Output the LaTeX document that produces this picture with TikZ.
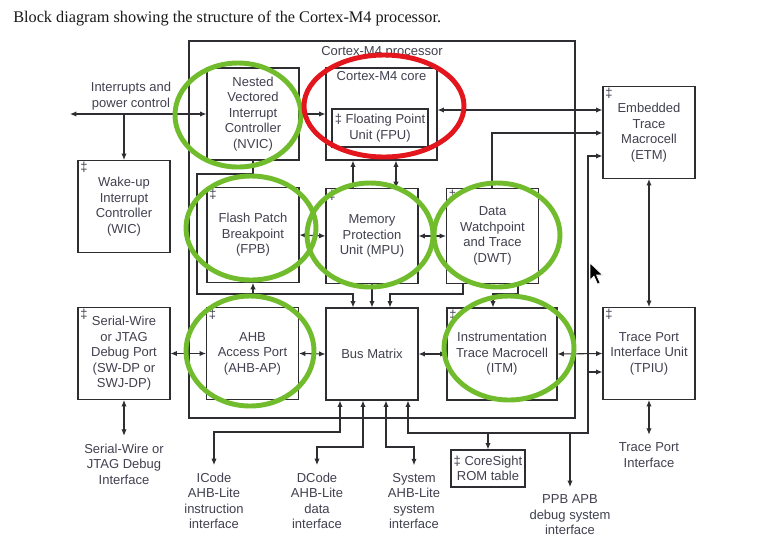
\documentclass[tikz,border=0pt]{standalone}
\usepackage{fontspec}
\setmainfont{Liberation Serif}
\newfontfamily\arialfont{Liberation Sans}
\usepackage{tikz}
\usetikzlibrary{positioning, arrows.meta}
\definecolor{linegray}{RGB}{45,45,50}
\definecolor{textgray}{RGB}{65,65,80}
\definecolor{titleblack}{RGB}{25,25,25}
\definecolor{markgreen}{RGB}{112,188,45}
\definecolor{markred}{RGB}{226,22,28}
\newcommand{\boxfont}{\arialfont\fontsize{9.75}{11.6}\selectfont}

\begin{document}
\begin{tikzpicture}[x=0.75pt, y=-0.75pt,
    % Block styles
    block/.style={draw=linegray, line width=0.8pt, fill=white, minimum width=69pt, minimum height=69pt, inner sep=0pt, align=center, font=\boxfont, text=textgray},
    dagger/.style={font=\boxfont, text=textgray, inner sep=0pt},
    boxlabel/.style={font=\boxfont, text=textgray, inner sep=0pt},
    ifacelabel/.style={font=\boxfont, text=textgray, align=center, inner sep=0pt, outer sep=6pt},
    % Connector styles
    conn/.style={draw=linegray, line width=0.8pt},
    arr/.style={conn, -{Latex[length=4.8pt, width=4pt]}},
    biarr/.style={conn, {Latex[length=4.8pt, width=4pt]}-{Latex[length=4.8pt, width=4pt]}},
    % Hand-drawn annotation rings
    greenring/.style={draw=markgreen, line width=3.7pt},
    redring/.style={draw=markred, line width=3.7pt}
  ]

  \useasboundingbox (0,0) rectangle (765,537);
  \fill[white] (0,0) rectangle (765,537);

  % Caption
  \node[anchor=west, inner sep=0pt, text=titleblack, font=\fontsize{12.2}{14}\selectfont] (title) at (13,19) {Block diagram showing the structure of the Cortex-M4 processor.};

  % Processor frame
  \node[block, fill=none, minimum width=289.5pt, minimum height=282.75pt] (proc) at (382,229.5) {};
  \node[boxlabel, below=4.5pt of proc.north] (proclabel) {Cortex-M4 processor};

  % Top row
  \node[block] (nvic) at (253,114) {Nested\\Vectored\\Interrupt\\Controller\\(NVIC)};
  \node[block, minimum width=83.25pt] (core) at (381.5,114) {};
  \node[boxlabel, below=3pt of core.north] (corelabel) {Cortex-M4 core};
  \node[block, minimum width=72pt, minimum height=28.5pt] (fpu) at (380,128) {‡ Floating Point\\Unit (FPU)};
  \node[block] (etm) at (649,132.5) {Embedded\\Trace\\Macrocell\\(ETM)};
  \node[block] (wic) at (124,206.5) {Wake-up\\Interrupt\\Controller\\(WIC)};

  % Middle row
  \node[block, minimum height=71pt] (fpb) at (253,235) {Flash Patch\\Breakpoint\\(FPB)};
  \node[block, minimum height=71pt] (mpu) at (372,236) {Memory\\Protection\\Unit (MPU)};
  \node[block, minimum height=71pt] (dwt) at (492.5,236) {Data\\Watchpoint\\and Trace\\(DWT)};

  % Bottom row
  \node[block] (swdp) at (124,353.5) {Serial-Wire\\or JTAG\\Debug Port\\(SW-DP or\\SWJ-DP)};
  \node[block] (ahbap) at (252.5,353.5) {AHB\\Access Port\\(AHB-AP)};
  \node[block] (bus) at (372,354) {Bus Matrix};
  \node[block, minimum width=82.5pt] (itm) at (502,354) {Instrumentation\\Trace Macrocell\\(ITM)};
  \node[block] (tpiu) at (649,353.5) {Trace Port\\Interface Unit\\(TPIU)};
  \node[block, minimum width=55.5pt, minimum height=27.75pt] (rom) at (488,468.5) {‡ CoreSight\\ROM table};

  % Implementation-option marks
  \foreach \b in {etm, wic, fpb, mpu, dwt, swdp, ahbap, itm, tpiu}
    \node[dagger, below right=1.5pt and 2pt of \b.north west] {‡};

  % External interface labels
  \node[ifacelabel] (irqlabel) at (131,96) {Interrupts and\\power control};
  \node[ifacelabel] (swlabel) at (124,464) {Serial-Wire or\\JTAG Debug\\Interface};
  \node[ifacelabel] (icode) at (214,501) {ICode\\AHB-Lite\\instruction\\interface};
  \node[ifacelabel] (dcode) at (317,501) {DCode\\AHB-Lite\\data\\interface};
  \node[ifacelabel] (sysif) at (414,501) {System\\AHB-Lite\\system\\interface};
  \node[ifacelabel] (ppblabel) at (570,515) {PPB APB\\debug system\\interface};
  \node[ifacelabel] (tplabel) at (649,455) {Trace Port\\Interface};

  % Bend points
  \coordinate (irqL) at (70,114);
  \coordinate (irqJ) at (124,114);
  \coordinate (etmA) at (0,110);
  \coordinate (xCoreA) at (353,0);
  \coordinate (xCoreB) at (396,0);
  \coordinate (frA) at (197,174);
  \coordinate (frB) at (197,294);
  \coordinate (dwtBusA) at (463,294);
  \coordinate (dwtBusB) at (390,294);
  \coordinate (dwtItmA) at (518,294);
  \coordinate (dwtItmB) at (493,294);
  \coordinate (dwtEtm) at (492,133);
  \coordinate (ppbA) at (408,433);
  \coordinate (ppbB) at (588,433);
  \coordinate (ppbC) at (588,156);
  \coordinate (ppbD) at (570,433);
  \coordinate (tpiuB) at (588,372);
  \coordinate (icA) at (340,432);
  \coordinate (icB) at (214,432);
  \coordinate (dcA) at (363,447);
  \coordinate (dcB) at (317,447);
  \coordinate (syA) at (386,447);
  \coordinate (syB) at (414,447);

  % Interrupts
  \draw[biarr] (irqL) -- (nvic.west);
  \draw[arr] (irqJ) -- (wic.north);
  \draw[biarr] (nvic.east) -- (core.west);

  % Core connections
  \draw[biarr] (core.east |- etmA) -- (etm.west |- etmA);
  \draw[arr] (mpu.north -| xCoreA) -- (core.south -| xCoreA);
  \draw[biarr] (core.south -| xCoreB) -- (mpu.north -| xCoreB);

  % NVIC / FPB path to the bus matrix
  \draw[arr] (nvic.south) -- (nvic.south |- frA) -- (frA) -- (frB) -- (frB -| xCoreA) -- (bus.north -| xCoreA);
  \draw[arr] (fpb.south |- frB) -- (fpb.south);
  \draw[biarr] (fpb.east) -- (mpu.west);
  \draw[biarr] (mpu.east) -- (dwt.west);
  \draw[arr] (mpu.south) -- (bus.north);
  \draw[arr] (dwt.south -| dwtBusA) -- (dwtBusA) -- (dwtBusB) -- (bus.north -| dwtBusB);
  \draw[arr] (dwt.south -| dwtItmA) -- (dwtItmA) -- (dwtItmB) -- (itm.north -| dwtItmB);
  \draw[arr] (dwt.north -| dwtEtm) -- (dwtEtm) -- (etm.west |- dwtEtm);

  % Debug and trace row
  \draw[biarr] (swdp.east) -- (ahbap.west);
  \draw[biarr] (ahbap.east) -- (bus.west);
  \draw[biarr] (bus.east) -- (itm.west);
  \draw[biarr] (itm.east) -- (tpiu.west);
  \draw[biarr] (etm.south) -- (tpiu.north);
  \draw[biarr] (swdp.south) -- (swlabel.north);
  \draw[biarr] (tpiu.south) -- (tplabel.north);

  % Bus matrix ports
  \draw[biarr] (bus.south -| icA) -- (icA) -- (icB) -- (icode.north);
  \draw[biarr] (bus.south -| dcA) -- (dcA) -- (dcB) -- (dcode.north);
  \draw[biarr] (bus.south -| syA) -- (syA) -- (syB) -- (sysif.north);
  \draw[biarr] (bus.south -| ppbA) -- (ppbA) -- (ppbB) -- (ppbC) -- (etm.west |- ppbC);
  \draw[arr] (tpiuB) -- (tpiu.west |- tpiuB);
  \draw[arr] (rom.north |- ppbA) -- (rom.north);
  \draw[arr] (ppbD) -- (ppblabel.north);

  % Annotation rings
  \draw[greenring] (238,115) ellipse [x radius=63, y radius=52];
  \draw[greenring] (251,228) ellipse [x radius=65, y radius=52];
  \draw[greenring] (370,235) ellipse [x radius=63, y radius=52];
  \draw[greenring] (497,235) ellipse [x radius=63, y radius=52];
  \draw[greenring] (250,351) ellipse [x radius=64, y radius=55];
  \draw[greenring] (509,348) ellipse [x radius=65, y radius=52];
  \draw[redring] (384,106) ellipse [x radius=80, y radius=51];

  % Mouse pointer
  \fill[black, draw=white, line width=0.4pt] (590,263) -- ++(0,17) -- ++(4,-4) -- ++(3.5,8) -- ++(2.5,-1) -- ++(-3.5,-8) -- ++(6,0) -- cycle;

\end{tikzpicture}
\end{document}
